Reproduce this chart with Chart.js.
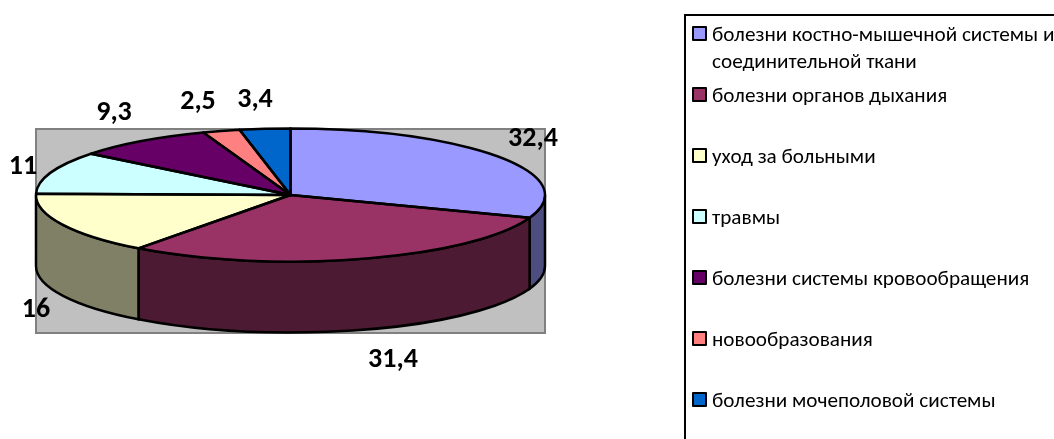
<!DOCTYPE html>
<html lang="ru">
<head>
<meta charset="utf-8">
<title>Диаграмма</title>
<script src="https://cdn.jsdelivr.net/npm/chart.js@4"></script>
<style>
  html, body { margin: 0; padding: 0; background: #fff; overflow: hidden; }
  #wrap { position: relative; width: 1054px; height: 439px; overflow: hidden; }
  canvas { position: absolute; left: 0; top: 0; }
  #legend { position: absolute; left: 684px; top: 14px; width: 500px; height: 500px;
    border: 2px solid #000; box-sizing: border-box; font-family: Carlito, "Noto Sans", sans-serif;
    font-size: 21.2px; color: #000; }
  .item { position: absolute; left: 26px; line-height: 27px; white-space: pre; }
  .box { position: absolute; left: 6px; width: 11px; height: 11px; border: 2px solid #000; border-radius: 1px; }
</style>
</head>
<body>
<div id="wrap">
  <canvas id="pie" width="1054" height="439"></canvas>
  <div id="legend"></div>
</div>
<script>
const categories = [
  "болезни костно-мышечной системы и\nсоединительной ткани",
  "болезни органов дыхания",
  "уход за больными",
  "травмы",
  "болезни системы кровообращения",
  "новообразования",
  "болезни мочеполовой системы"
];
const values = [32.4, 31.4, 16, 11, 9.3, 2.5, 3.4];
const colors = ["#9999FF", "#993366", "#FFFFCC", "#CCFFFF", "#660066", "#FF8080", "#0066CC"];
const wallColors = ["#4D4D80", "#4D1A33", "#808066", "#668080", "#330033", "#804040", "#003366"];
// where each value label sits, centre x / y
const labelX = [533, 393, 36, 23, 114, 198, 255];
const labelY = [139, 360, 310, 167, 113, 102, 100];

// the flattened pie
const cx = 290.5, cy = 195, rx = 254.5, ry = 66.5, depth = 71;

const flatPie = {
  id: "flatPie",
  beforeDatasetsDraw(chart) {
    const ctx = chart.ctx;
    // grey plot area
    ctx.save();
    ctx.fillStyle = "#C0C0C0";
    ctx.strokeStyle = "#808080";
    ctx.lineWidth = 2;
    ctx.fillRect(36, 129, 509, 204);
    ctx.strokeRect(36, 129, 509, 204);

    // side wall, only the front half of the ellipse shows
    const arcs = chart.getDatasetMeta(0).data;
    ctx.strokeStyle = "#000";
    ctx.lineWidth = 2.5;
    arcs.forEach((arc, i) => {
      const a = Math.max(arc.startAngle, 0);
      const b = Math.min(arc.endAngle, Math.PI);
      if (b <= a) return;
      ctx.beginPath();
      ctx.ellipse(cx, cy, rx, ry, 0, a, b);
      ctx.ellipse(cx, cy + depth, rx, ry, 0, b, a, true);
      ctx.closePath();
      ctx.fillStyle = wallColors[i];
      ctx.fill();
      ctx.stroke();
    });
    ctx.restore();

    // squash the library's round pie into the ellipse
    const first = arcs[0];
    ctx.save();
    ctx.translate(cx, cy);
    ctx.scale(rx / first.outerRadius, ry / first.outerRadius);
    ctx.translate(-first.x, -first.y);
  },
  afterDatasetsDraw(chart) {
    const ctx = chart.ctx;
    ctx.restore();
    const arcs = chart.getDatasetMeta(0).data;
    ctx.save();
    ctx.strokeStyle = "#000";
    ctx.lineWidth = 2.5;
    ctx.lineJoin = "round";
    arcs.forEach((arc) => {
      ctx.beginPath();
      ctx.moveTo(cx, cy);
      ctx.ellipse(cx, cy, rx, ry, 0, arc.startAngle, arc.endAngle);
      ctx.closePath();
      ctx.stroke();
    });
    // value labels
    ctx.fillStyle = "#000";
    ctx.font = 'bold 28px Carlito, "Noto Sans", sans-serif';
    ctx.textAlign = "center";
    ctx.textBaseline = "middle";
    values.forEach((v, i) => {
      ctx.fillText(String(v).replace(".", ","), labelX[i], labelY[i]);
    });
    ctx.restore();
  }
};

new Chart(document.getElementById("pie"), {
  type: "pie",
  data: {
    labels: categories,
    datasets: [{ data: values, backgroundColor: colors, borderWidth: 0 }]
  },
  options: {
    responsive: false,
    animation: false,
    plugins: { legend: { display: false }, tooltip: { enabled: false } }
  },
  plugins: [flatPie]
});

// legend on the right
const legend = document.getElementById("legend");
const rowTop = [10, 71, 132, 193, 254, 315, 376];
categories.forEach((name, i) => {
  const box = document.createElement("div");
  box.className = "box";
  box.style.top = rowTop[i] + "px";
  box.style.background = colors[i];
  legend.appendChild(box);
  const item = document.createElement("div");
  item.className = "item";
  item.style.top = (rowTop[i] - 5) + "px";
  item.textContent = name;
  legend.appendChild(item);
});
</script>
</body>
</html>
